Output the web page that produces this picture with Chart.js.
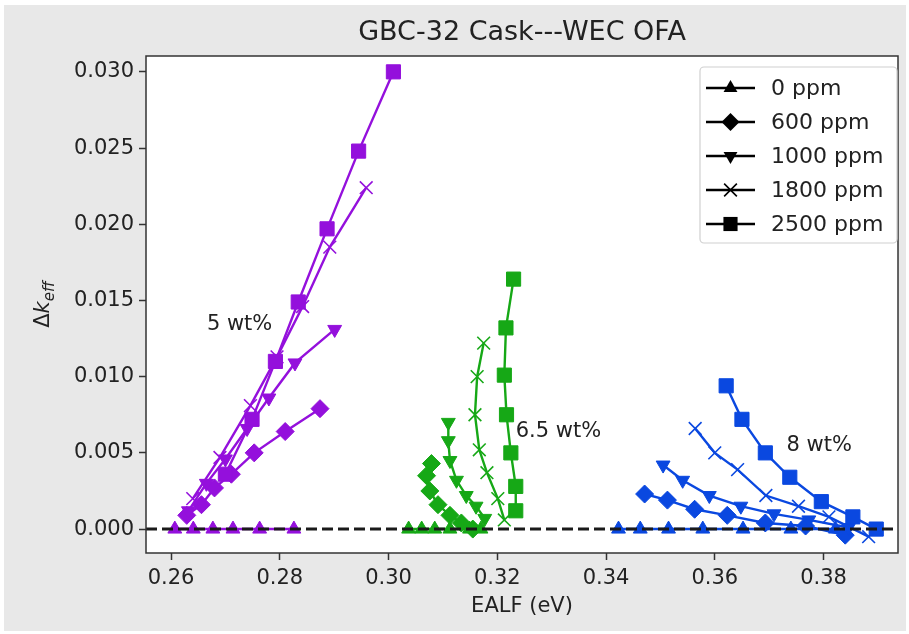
<!DOCTYPE html>
<html><head><meta charset="utf-8">
<script src="https://cdn.jsdelivr.net/npm/chart.js@4.4.0/dist/chart.umd.min.js"></script>
<style>html,body{margin:0;padding:0;background:#fff;}</style>
</head><body>
<canvas id="c" width="909" height="634" style="width:909px;height:634px;display:block"></canvas>
<script>
// ---------- DATA ----------
const seriesLabels = ['0 ppm', '600 ppm', '1000 ppm', '1800 ppm', '2500 ppm'];
const groupLabels = ['5 wt%', '6.5 wt%', '8 wt%'];
const xTicks = [0.26, 0.28, 0.30, 0.32, 0.34, 0.36, 0.38];
const yTicks = [0.000, 0.005, 0.010, 0.015, 0.020, 0.025, 0.030];

// 5 wt%
const ealf5_0    = [0.2607, 0.2641, 0.2677, 0.2714, 0.2763, 0.2826];
const dk5_0      = [0, 0, 0, 0, 0, 0];
const ealf5_600  = [0.2629, 0.2656, 0.2680, 0.2711, 0.2753, 0.2810, 0.2874];
const dk5_600    = [0.0009, 0.0016, 0.0027, 0.0036, 0.0050, 0.0064, 0.0079];
const ealf5_1000 = [0.2632, 0.2665, 0.2700, 0.2740, 0.2780, 0.2828, 0.2901];
const dk5_1000   = [0.0012, 0.0030, 0.0046, 0.0066, 0.0086, 0.0109, 0.0131];
const ealf5_1800 = [0.2640, 0.2690, 0.2746, 0.2795, 0.2842, 0.2892, 0.2959];
const dk5_1800   = [0.0020, 0.0047, 0.0081, 0.0113, 0.0146, 0.0185, 0.0224];
const ealf5_2500 = [0.2700, 0.2749, 0.2792, 0.2834, 0.2887, 0.2945, 0.3009];
const dk5_2500   = [0.0036, 0.0072, 0.0110, 0.0149, 0.0197, 0.0248, 0.0300];

// 6.5 wt%
const ealf65_0    = [0.3037, 0.3061, 0.3085, 0.3113, 0.3149, 0.3170];
const dk65_0      = [0, 0, 0, 0, 0, 0];
const ealf65_600  = [0.3079, 0.3070, 0.3076, 0.3091, 0.3113, 0.3134, 0.3155];
const dk65_600    = [0.0043, 0.0035, 0.0025, 0.0016, 0.0009, 0.0004, 0.0000];
const ealf65_1000 = [0.3110, 0.3110, 0.3113, 0.3125, 0.3143, 0.3161, 0.3177];
const dk65_1000   = [0.0070, 0.0058, 0.0045, 0.0032, 0.0022, 0.0015, 0.0007];
const ealf65_1800 = [0.3175, 0.3163, 0.3159, 0.3167, 0.3181, 0.3201, 0.3213];
const dk65_1800   = [0.0122, 0.0100, 0.0075, 0.0052, 0.0037, 0.0020, 0.0006];
const ealf65_2500 = [0.3230, 0.3216, 0.3213, 0.3217, 0.3225, 0.3234, 0.3234];
const dk65_2500   = [0.0164, 0.0132, 0.0101, 0.0075, 0.0050, 0.0028, 0.0012];

// 8 wt%
const ealf8_0    = [0.3423, 0.3463, 0.3515, 0.3578, 0.3652, 0.3740, 0.3822];
const dk8_0      = [0, 0, 0, 0, 0, 0, 0];
const ealf8_600  = [0.3471, 0.3513, 0.3563, 0.3623, 0.3693, 0.3767, 0.3840];
const dk8_600    = [0.0023, 0.0019, 0.0013, 0.0009, 0.0004, 0.0002, -0.0004];
const ealf8_1000 = [0.3505, 0.3541, 0.3590, 0.3648, 0.3709, 0.3773, 0.3846];
const dk8_1000   = [0.0042, 0.0032, 0.0022, 0.0015, 0.0010, 0.0006, 0.0001];
const ealf8_1800 = [0.3564, 0.3600, 0.3642, 0.3694, 0.3754, 0.3810, 0.3883];
const dk8_1800   = [0.0066, 0.0050, 0.0039, 0.0022, 0.0015, 0.0008, -0.0005];
const ealf8_2500 = [0.3621, 0.3650, 0.3693, 0.3738, 0.3796, 0.3854, 0.3897];
const dk8_2500   = [0.0094, 0.0072, 0.0050, 0.0034, 0.0018, 0.0008, 0.0000];

// label anchor positions (data coords)
const groupLabelX = [0.2666, 0.3234, 0.3732];
const groupLabelY = [0.0134, 0.0064, 0.0055];

// ---------- STYLE ----------
const FONT = "'DejaVu Sans', sans-serif";
const groupColors = ['#9410dc', '#16a816', '#0a48e0'];
const markerStyles = [
  {style: 'triangle', rot: 0, r: 8},
  {style: 'rectRot', rot: 0, r: 9},
  {style: 'triangle', rot: 180, r: 8},
  {style: 'crossRot', rot: 0, r: 9},
  {style: 'rect', rot: 0, r: 10}
];

const groupsX = [
  [ealf5_0, ealf5_600, ealf5_1000, ealf5_1800, ealf5_2500],
  [ealf65_0, ealf65_600, ealf65_1000, ealf65_1800, ealf65_2500],
  [ealf8_0, ealf8_600, ealf8_1000, ealf8_1800, ealf8_2500]
];
const groupsY = [
  [dk5_0, dk5_600, dk5_1000, dk5_1800, dk5_2500],
  [dk65_0, dk65_600, dk65_1000, dk65_1800, dk65_2500],
  [dk8_0, dk8_600, dk8_1000, dk8_1800, dk8_2500]
];

const datasets = [];
let idx = 0;
groupsX.forEach((gx, g) => {
  gx.forEach((xs, s) => {
    const ys = groupsY[g][s];
    const m = markerStyles[s];
    const col = groupColors[g];
    datasets.push({
      label: seriesLabels[s],
      data: xs.map((x, i) => ({x: x, y: ys[i]})),
      showLine: true,
      borderColor: col,
      backgroundColor: col,
      borderWidth: 2.4,
      pointStyle: m.style,
      pointRotation: m.rot,
      pointRadius: m.r,
      pointHoverRadius: m.r,
      pointBackgroundColor: col,
      pointBorderColor: col,
      pointBorderWidth: m.style === 'crossRot' ? 1.6 : 1,
      tension: 0,
      order: 100 - idx
    });
    idx++;
  });
});

function drawMarker(ctx, style, rot, x, y, r) {
  ctx.save();
  ctx.translate(x, y);
  ctx.rotate(rot * Math.PI / 180);
  ctx.beginPath();
  if (style === 'triangle') {
    const h = r;
    ctx.moveTo(0, -h);
    ctx.lineTo(h * Math.sin(Math.PI / 3), h * 0.5);
    ctx.lineTo(-h * Math.sin(Math.PI / 3), h * 0.5);
    ctx.closePath();
    ctx.fill();
  } else if (style === 'rectRot') {
    ctx.moveTo(0, -r); ctx.lineTo(r, 0); ctx.lineTo(0, r); ctx.lineTo(-r, 0);
    ctx.closePath(); ctx.fill();
  } else if (style === 'rect') {
    const s = r * Math.SQRT1_2;
    ctx.fillRect(-s, -s, 2 * s, 2 * s);
  } else if (style === 'crossRot') {
    const s = r * Math.SQRT1_2;
    ctx.lineWidth = 1.6;
    ctx.moveTo(-s, -s); ctx.lineTo(s, s);
    ctx.moveTo(s, -s); ctx.lineTo(-s, s);
    ctx.stroke();
  }
  ctx.restore();
}

const decor = {
  id: 'decor',
  beforeDraw(chart) {
    const ctx = chart.ctx;
    const a = chart.chartArea;
    ctx.save();
    ctx.fillStyle = '#ffffff';
    ctx.fillRect(0, 0, chart.width, chart.height);
    ctx.fillStyle = '#e8e8e8';
    ctx.fillRect(4, 5, 902, 626);
    ctx.fillStyle = '#ffffff';
    ctx.fillRect(a.left, a.top, a.right - a.left, a.bottom - a.top);
    ctx.restore();
  },
  afterDatasetsDraw(chart) {
    const ctx = chart.ctx;
    const a = chart.chartArea;
    const y0 = chart.scales.y.getPixelForValue(0);
    ctx.save();
    ctx.beginPath();
    ctx.rect(a.left, a.top, a.right - a.left, a.bottom - a.top);
    ctx.clip();
    ctx.strokeStyle = '#1a1a1a';
    ctx.lineWidth = 3;
    ctx.setLineDash([11, 5]);
    ctx.beginPath();
    ctx.moveTo(a.left, y0);
    ctx.lineTo(a.right, y0);
    ctx.stroke();
    ctx.restore();
    // frame
    ctx.save();
    ctx.strokeStyle = '#333';
    ctx.lineWidth = 1.5;
    ctx.strokeRect(a.left, a.top, a.right - a.left, a.bottom - a.top);
    ctx.restore();
  },
  afterDraw(chart) {
    const ctx = chart.ctx;
    const a = chart.chartArea;
    const xs = chart.scales.x, ys = chart.scales.y;
    ctx.save();
    ctx.fillStyle = '#222';
    // title
    ctx.font = "27px " + FONT;
    ctx.textAlign = 'center';
    ctx.textBaseline = 'middle';
    ctx.fillText('GBC-32 Cask---WEC OFA', (a.left + a.right) / 2, 33);
    // x title
    ctx.font = "21px " + FONT;
    ctx.fillText('EALF (eV)', (a.left + a.right) / 2, 607);
    // y title
    ctx.save();
    ctx.translate(42, (a.top + a.bottom) / 2);
    ctx.rotate(-Math.PI / 2);
    ctx.textBaseline = 'alphabetic';
    ctx.textAlign = 'left';
    const f1 = "21px " + FONT, f2 = "italic 21px " + FONT, f3 = "italic 15px " + FONT;
    ctx.font = f1; const w1 = ctx.measureText('Δ').width;
    ctx.font = f2; const w2 = ctx.measureText('k').width;
    ctx.font = f3; const w3 = ctx.measureText('eff').width;
    let sx = -(w1 + w2 + w3) / 2;
    const base = 7;
    ctx.font = f1; ctx.fillText('Δ', sx, base); sx += w1;
    ctx.font = f2; ctx.fillText('k', sx, base); sx += w2;
    ctx.font = f3; ctx.fillText('eff', sx, base + 5);
    ctx.restore();
    // group annotations
    ctx.font = "21px " + FONT;
    ctx.textAlign = 'left';
    ctx.textBaseline = 'middle';
    groupLabels.forEach((t, i) => {
      ctx.fillText(t, xs.getPixelForValue(groupLabelX[i]), ys.getPixelForValue(groupLabelY[i]));
    });
    // legend
    const lx = 700, ly = 67, lw = 197, lh = 176;
    ctx.save();
    ctx.fillStyle = 'rgba(255,255,255,0.85)';
    ctx.strokeStyle = '#d0d0d0';
    ctx.lineWidth = 1.2;
    ctx.beginPath();
    ctx.roundRect(lx, ly, lw, lh, 4);
    ctx.fill();
    ctx.stroke();
    ctx.restore();
    const rowY = [88, 122, 156, 190, 224];
    seriesLabels.forEach((t, i) => {
      const y = rowY[i];
      ctx.strokeStyle = '#000';
      ctx.lineWidth = 2.5;
      ctx.beginPath();
      ctx.moveTo(706, y); ctx.lineTo(755, y); ctx.stroke();
      ctx.fillStyle = '#000';
      ctx.strokeStyle = '#000';
      const m = markerStyles[i];
      drawMarker(ctx, m.style, m.rot, 730.5, y, m.r);
      ctx.fillStyle = '#222';
      ctx.font = "22px " + FONT;
      ctx.textAlign = 'left';
      ctx.textBaseline = 'middle';
      ctx.fillText(t, 771, y + 1);
    });
    ctx.restore();
  }
};

new Chart(document.getElementById('c'), {
  type: 'scatter',
  data: {datasets: datasets},
  options: {
    responsive: false,
    animation: false,
    devicePixelRatio: 1,
    layout: {padding: {top: 56, right: 6, left: 0, bottom: 0}},
    plugins: {legend: {display: false}, title: {display: false}, tooltip: {enabled: false}},
    scales: {
      x: {
        type: 'linear',
        min: 0.2554, max: 0.3937,
        afterFit(s) { s.height = 81; },
        afterBuildTicks(s) { s.ticks = xTicks.map(v => ({value: v})); },
        grid: {drawOnChartArea: false, drawTicks: true, tickLength: 7, tickWidth: 1.5, tickColor: '#333'},
        border: {display: false},
        ticks: {color: '#222', font: {family: FONT, size: 21}, padding: 6, maxRotation: 0,
                callback: v => Number(v).toFixed(2)}
      },
      y: {
        type: 'linear',
        min: -0.00157, max: 0.03104,
        afterFit(s) { s.width = 146; },
        afterBuildTicks(s) { s.ticks = yTicks.map(v => ({value: v})); },
        grid: {drawOnChartArea: false, drawTicks: true, tickLength: 7, tickWidth: 1.5, tickColor: '#333'},
        border: {display: false},
        ticks: {color: '#222', font: {family: FONT, size: 21}, padding: 5,
                callback: v => Number(v).toFixed(3)}
      }
    }
  },
  plugins: [decor]
});
</script>
</body></html>
